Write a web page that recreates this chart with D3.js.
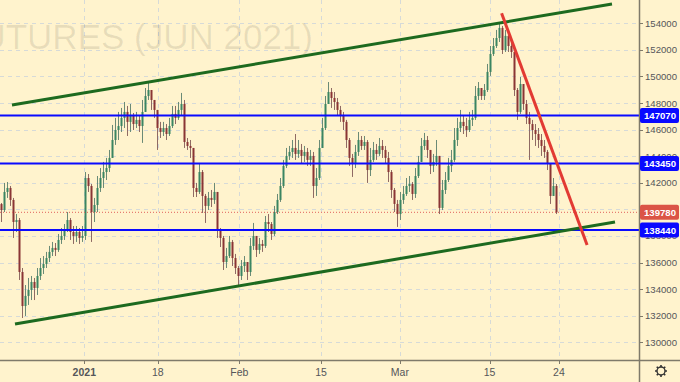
<!DOCTYPE html>
<html><head><meta charset="utf-8">
<script src="https://cdn.jsdelivr.net/npm/d3@7/dist/d3.min.js"></script>
<style>html,body{margin:0;padding:0;background:#fff3cd;}svg{display:block;}</style>
</head><body>
<svg id="c" width="680" height="382"></svg>
<script>
// ---- data ----
const watermark = "RTS FUTURES (JUN 2021)";
const firstOpen = 140400;
const closes = [139950,141310,141610,140710,139050,139200,135290,132730,133490,133940,
134540,134090,134990,135590,135890,136340,136800,137100,136950,137700,
138000,138450,139200,138300,138000,138300,137850,138000,142360,141760,
139800,140330,141610,142360,142810,143110,143870,145220,145970,146270,
146880,147330,146580,147030,146420,146730,146270,147330,148530,148980,
148230,147480,146120,145820,146120,145670,146270,147180,146880,147480,
147930,145070,144770,144620,141610,141310,142810,141010,140260,140860,
140710,141310,138450,137850,136040,136490,137550,136340,135590,134990,
135740,136040,135290,137250,138000,136950,137400,137250,139050,138900,
138150,139800,140710,141760,143270,144020,144320,144620,144170,144470,
144020,144320,143720,144020,141760,142360,144620,146120,147930,148830,
148380,148080,147480,147030,146580,145220,143870,143420,144320,145220,
144770,145070,142960,143720,144470,144170,144770,144470,143870,142810,
141460,140410,139650,140710,141160,141760,141910,141160,142510,143570,
144770,145220,144470,143270,143570,144020,140110,141460,142210,143270,
143720,145220,146120,146580,146270,145970,146730,146880,148530,149130,
148530,148980,150340,151690,152290,152890,153650,151990,153050,152290,
151840,148980,147330,149430,147930,146880,146420,145970,145670,145220,
144770,144320,143420,141010,141760,139780];
const highs = [140480,141990,142060,141760,140860,139650,139350,135590,134310,134840,
134990,134840,135590,136340,136490,136800,137250,137550,137470,138150,
138600,138900,139800,139350,138750,138750,138600,138750,142810,142660,
141910,140860,142510,143110,143570,143870,144470,146350,146880,147330,
147630,148080,147780,147930,147250,147330,147030,148230,149130,149510,
148830,148230,147480,146580,146580,146420,146880,147780,147780,148080,
148760,148230,145370,145220,144620,141990,143490,142960,141160,141310,
141460,141990,141310,138600,138000,137100,138000,137700,136650,135740,
136190,136490,136040,137850,138980,138000,137850,137700,139500,139650,
139050,140260,141160,142360,143720,144620,144770,145220,145670,145220,
144920,144770,144620,144470,144320,143110,145220,146880,148530,149580,
149130,148830,148380,147780,147330,146730,145370,144170,144850,145820,
145520,145520,145220,144620,145070,144920,145370,145220,144770,144320,
142960,141610,140710,141310,141760,142360,142510,142060,143110,144020,
145370,145750,145520,144470,144170,145220,144020,142210,142810,143870,
144470,146120,146880,147480,147030,146880,147330,147480,149280,149580,
149130,149430,150940,152290,152890,153500,154020,153800,153500,153200,
152740,151540,149130,149960,149430,148230,147330,146730,146420,146120,
145670,145220,144470,143420,142360,141910];
const lows = [139050,139800,140860,140260,137850,138300,134690,131830,131980,132810,
133180,133180,133560,134690,135140,135590,136040,136490,136490,136800,
137400,137700,138300,137700,137400,137550,137400,137550,137700,141310,
137550,139050,139800,141310,141610,142210,142810,144470,144850,145220,
145820,146120,145520,145820,145970,146120,145820,145000,147780,148230,
147480,146880,144470,145370,145520,145220,145520,146120,146420,146730,
147030,144620,144470,143870,140930,140930,141160,139730,138980,139950,
140180,140410,137850,137170,135440,135590,136340,135740,135140,134310,
134690,135290,134690,134990,136950,136420,136650,136800,137100,138300,
137700,138000,139650,140560,141610,143110,143720,143870,143720,143870,
143420,143570,143270,143270,140860,141010,142210,144620,145970,147930,
147630,147480,147030,146580,145970,144620,143270,142440,143110,144020,
144470,144470,141990,142510,143570,143720,144020,143870,143420,142060,
140860,139800,138680,139200,140410,141010,141310,140710,140860,142360,
143570,144470,143870,142660,142810,143270,139650,139950,141160,142060,
142810,143570,144770,145820,145670,145450,145820,146270,146730,148230,
148230,148230,148830,150040,151540,152140,152590,151690,151840,151840,
151390,148530,146730,147180,147480,146420,143720,145220,144770,144620,
144020,143870,142960,140410,141010,139650];
const xTickIdx = [27.6, 52.1, 79.3, 106.5, 132.8, 162.7, 185.8];
const xTickLabels = ["2021", "18", "Feb", "15", "Mar", "15", "24"];
const xTickBold = [true, false, false, false, false, false, false];
const yTicks = [130000,132000,134000,136000,138000,140000,142000,144000,146000,148000,150000,152000,154000];
const levels = [147070, 143450, 138440];
const lastPrice = 139780;
const greenUpper = [[3.5,147850],[203.5,155450]];
const greenLower = [[4.5,131380],[204.5,139050]];
const redLine = [[166.7,154750],[195.2,137320]];

// ---- layout ----
const W = 680, H = 382, plotW = 639, plotH = 360;
const svg = d3.select("#c");
const x = d3.scaleLinear().domain([0, 185]).range([1.5, 556.5]);
const y = d3.scaleLinear().domain([128670, 155750]).range([plotH, 0]);

svg.append("rect").attr("width", W).attr("height", H).attr("fill", "#fff3cd");
svg.append("defs").append("clipPath").attr("id", "clip")
  .append("rect").attr("width", plotW).attr("height", plotH);
const g = svg.append("g").attr("clip-path", "url(#clip)");

// grid
g.selectAll(".hg").data(yTicks).join("line")
  .attr("x1", 0).attr("x2", plotW).attr("y1", d => Math.round(y(d)) + 0.5).attr("y2", d => Math.round(y(d)) + 0.5)
  .attr("stroke", "#d6dad8").attr("stroke-dasharray", "4,4");
g.selectAll(".vg").data(xTickIdx).join("line")
  .attr("y1", 0).attr("y2", plotH).attr("x1", d => Math.round(x(d)) + 0.5).attr("x2", d => Math.round(x(d)) + 0.5)
  .attr("stroke", "#d6dad8").attr("stroke-dasharray", "4,4");

// watermark
g.append("text").attr("x", 313).attr("y", 48.5).attr("text-anchor", "end")
  .attr("font-family", "Liberation Sans, Arial, sans-serif").attr("font-size", 35)
  .attr("fill", "#000").attr("fill-opacity", 0.09).text(watermark);

// candles
const candles = closes.map((c, i) => ({ i, o: i === 0 ? firstOpen : closes[i - 1], c, h: highs[i], l: lows[i] }));
const up = "#3a8562", dn = "#8a3535";
g.selectAll(".wick").data(candles).join("line")
  .attr("x1", d => x(d.i)).attr("x2", d => x(d.i))
  .attr("y1", d => y(Math.max(d.h, d.o, d.c))).attr("y2", d => y(Math.min(d.l, d.o, d.c)))
  .attr("stroke", d => d.c >= d.o ? "#6a8a76" : "#8f6a64").attr("stroke-width", 1);
g.selectAll(".body").data(candles).join("rect")
  .attr("x", d => x(d.i) - 1).attr("width", 2)
  .attr("y", d => y(Math.max(d.o, d.c)))
  .attr("height", d => Math.max(1, Math.abs(y(d.o) - y(d.c))))
  .attr("fill", d => d.c >= d.o ? up : dn);

// last price dotted
g.append("line").attr("x1", 0).attr("x2", plotW).attr("y1", y(lastPrice)).attr("y2", y(lastPrice))
  .attr("stroke", "#e0605a").attr("stroke-width", 1).attr("stroke-dasharray", "1,2");

// horizontal levels
g.selectAll(".lvl").data(levels).join("line")
  .attr("x1", 0).attr("x2", plotW).attr("y1", d => y(d)).attr("y2", d => y(d))
  .attr("stroke", "#0a0aff").attr("stroke-width", 2);

// trend lines
const line = d3.line().x(d => x(d[0])).y(d => y(d[1]));
g.append("path").attr("d", line(greenUpper)).attr("stroke", "#1d6a1f").attr("stroke-width", 3).attr("fill", "none");
g.append("path").attr("d", line(greenLower)).attr("stroke", "#1d6a1f").attr("stroke-width", 3).attr("fill", "none");
g.append("path").attr("d", line(redLine)).attr("stroke", "#e23a33").attr("stroke-width", 3).attr("fill", "none");

// axes lines
const axisCol = "#7f7a6a";
svg.append("line").attr("x1", 0).attr("x2", W).attr("y1", plotH + 0.5).attr("y2", plotH + 0.5).attr("stroke", axisCol).attr("stroke-width", 1.5);
svg.append("line").attr("x1", plotW + 0.5).attr("x2", plotW + 0.5).attr("y1", 0).attr("y2", H).attr("stroke", axisCol).attr("stroke-width", 1.5);

// right axis
const font = "Liberation Sans, Arial, sans-serif";
const ya = svg.append("g");
ya.selectAll("line").data(yTicks).join("line")
  .attr("x1", plotW).attr("x2", plotW + 4).attr("y1", d => Math.round(y(d)) + 0.5).attr("y2", d => Math.round(y(d)) + 0.5)
  .attr("stroke", axisCol);
ya.selectAll("text").data(yTicks).join("text")
  .attr("x", 645).attr("y", d => y(d) + 3.5).attr("font-family", font).attr("font-size", 9.6)
  .attr("fill", "#55565a").text(d => d);

// bottom axis
const xa = svg.append("g");
xa.selectAll("line").data(xTickIdx).join("line")
  .attr("x1", d => Math.round(x(d)) + 0.5).attr("x2", d => Math.round(x(d)) + 0.5).attr("y1", plotH).attr("y2", plotH + 4)
  .attr("stroke", axisCol);
xa.selectAll("text").data(xTickIdx).join("text")
  .attr("x", d => x(d)).attr("y", 376).attr("text-anchor", "middle").attr("font-family", font).attr("font-size", 10.5)
  .attr("font-weight", (d, i) => xTickBold[i] ? "bold" : "normal")
  .attr("fill", "#55565a").text((d, i) => xTickLabels[i]);

// price label boxes
const boxes = levels.map(v => ({ v, col: "#0a0aff" })).concat([{ v: lastPrice, col: "#db5446" }]);
const bg = svg.selectAll(".box").data(boxes).join("g");
bg.append("rect").attr("x", plotW + 1).attr("y", d => y(d.v) - 7.5).attr("width", 39).attr("height", 15).attr("rx", 2)
  .attr("fill", d => d.col);
bg.append("text").attr("x", 644).attr("y", d => y(d.v) + 3.5).attr("font-family", font).attr("font-size", 9.6)
  .attr("font-weight", "bold").attr("fill", "#fff").text(d => d.v);

// gear icon
const gear = svg.append("g").attr("transform", "translate(661,371)");
gear.append("circle").attr("r", 4).attr("fill", "none").attr("stroke", "#333").attr("stroke-width", 1.4);
gear.selectAll("line").data(d3.range(8)).join("line")
  .attr("x1", d => 4 * Math.cos(d * Math.PI / 4)).attr("y1", d => 4 * Math.sin(d * Math.PI / 4))
  .attr("x2", d => 6 * Math.cos(d * Math.PI / 4)).attr("y2", d => 6 * Math.sin(d * Math.PI / 4))
  .attr("stroke", "#333").attr("stroke-width", 1.6);
</script>
</body></html>
